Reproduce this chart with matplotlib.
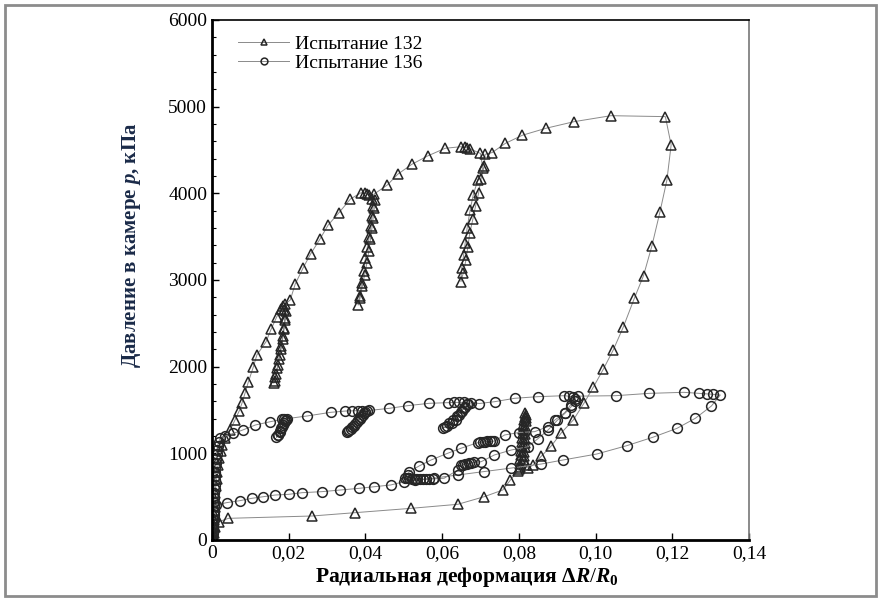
import numpy as np
import matplotlib
matplotlib.use("Agg")
import matplotlib.pyplot as plt
import matplotlib.ticker as mticker
from matplotlib.patches import Rectangle

plt.rcParams['font.family'] = ['Liberation Serif', 'DejaVu Serif']
plt.rcParams['mathtext.fontset'] = 'custom'
plt.rcParams['mathtext.rm'] = 'Liberation Serif'
plt.rcParams['mathtext.it'] = 'Liberation Serif:italic'
plt.rcParams['mathtext.bf'] = 'Liberation Serif:bold'
plt.rcParams['mathtext.bfit'] = 'Liberation Serif:bold:italic'

# Испытание 132 (triangles): radial strain, chamber pressure kPa
t132_x = [0, 0.0002, 0.0003, 0.0004, 0.0005, 0.0006, 0.0007, 0.0008, 0.0009, 0.0010,
          0.0012, 0.0014, 0.0016, 0.0019, 0.0023, 0.0026, 0.0034, 0.0047, 0.0060, 0.0071,
          0.0078, 0.0086, 0.0095, 0.0108, 0.0117, 0.0141, 0.0154, 0.0169, 0.0180, 0.0185,
          0.0188, 0.0190, 0.0187, 0.0184, 0.0180, 0.0176, 0.0172, 0.0167, 0.0163, 0.0161,
          0.0165, 0.0170, 0.0175, 0.0180, 0.0184, 0.0188, 0.0191, 0.0192, 0.0190,
          0.0204, 0.0217, 0.0237, 0.0257, 0.0281, 0.0303, 0.0331, 0.0361, 0.0389, 0.0400,
          0.0405, 0.0410,
          0.0418, 0.0420, 0.0417, 0.0414, 0.0410, 0.0405, 0.0400, 0.0396, 0.0390, 0.0385, 0.0381,
          0.0386, 0.0392, 0.0398, 0.0404, 0.0409, 0.0413, 0.0417, 0.0420, 0.0423, 0.0424, 0.0422,
          0.0457, 0.0485, 0.0521, 0.0562, 0.0608, 0.0649, 0.0660, 0.0666, 0.0672,
          0.0700, 0.0706, 0.0693, 0.0681, 0.0673, 0.0665, 0.0660, 0.0656, 0.0651, 0.0649,
          0.0655, 0.0662, 0.0667, 0.0672, 0.0680, 0.0687, 0.0695, 0.0701, 0.0710, 0.0712,
          0.0730, 0.0765, 0.0809, 0.0870, 0.0944, 0.1040, 0.1182, 0.1197,
          0.1186, 0.1168, 0.1147, 0.1125, 0.1101, 0.1072, 0.1046, 0.1020, 0.0994, 0.0970,
          0.0942, 0.0911, 0.0885, 0.0859, 0.0837,
          0.0825, 0.0818, 0.0813, 0.0814, 0.0814, 0.0815, 0.0815, 0.0816, 0.0816, 0.0817,
          0.0817, 0.0818, 0.0818, 0.0818, 0.0817,
          0.0815, 0.0814, 0.0812, 0.0811, 0.0810, 0.0809, 0.0808, 0.0807, 0.0806, 0.0805,
          0.0804, 0.0803, 0.0802, 0.0800, 0.0798,
          0.0778, 0.0758, 0.0710, 0.0641, 0.0518, 0.0374, 0.0261, 0.0043, 0.0017, 0.0008,
          0.0005, 0.0003]
t132_p = [0, 50, 100, 160, 230, 300, 380, 460, 540, 620,
          700, 780, 860, 950, 1030, 1096, 1173, 1269, 1385, 1490,
          1577, 1692, 1827, 2000, 2135, 2288, 2431, 2577, 2660, 2700,
          2650, 2560, 2450, 2350, 2240, 2130, 2020, 1910, 1830, 1810,
          1880, 1980, 2090, 2200, 2320, 2430, 2540, 2640, 2720,
          2769, 2954, 3135, 3300, 3469, 3635, 3777, 3935, 4008, 4000,
          3995, 3985,
          3930, 3850, 3740, 3620, 3500, 3380, 3250, 3100, 2960, 2820, 2711,
          2790, 2930, 3060, 3200, 3340, 3470, 3600, 3720, 3830, 3920, 3990,
          4096, 4223, 4335, 4431, 4520, 4538, 4530, 4525, 4515,
          4460, 4290, 4154, 3981, 3808, 3596, 3423, 3288, 3135, 2981,
          3080, 3230, 3380, 3540, 3700, 3850, 4000, 4160, 4320, 4450,
          4470, 4577, 4670, 4750, 4827, 4896, 4885, 4558,
          4154, 3788, 3396, 3050, 2788, 2454, 2192, 1969, 1762, 1580,
          1385, 1238, 1088, 969, 865,
          830, 870, 920, 970, 1020, 1070, 1120, 1170, 1220, 1270,
          1320, 1370, 1410, 1445, 1460,
          1420, 1380, 1330, 1280, 1230, 1180, 1130, 1080, 1030, 980,
          930, 880, 840, 815, 800,
          692, 577, 500, 412, 365, 315, 277, 250, 211, 150,
          80, 30]

# Испытание 136 (circles)
t136_x = [0, 0.0001, 0.0002, 0.0002, 0.0003, 0.0003, 0.0004, 0.0004, 0.0005, 0.0005,
          0.0006, 0.0006, 0.0007, 0.0007, 0.0008, 0.0008, 0.0009, 0.0009, 0.0010, 0.0011,
          0.0012, 0.0013, 0.0015, 0.0018, 0.0021, 0.0035, 0.0056, 0.0080, 0.0113, 0.0152,
          0.0182, 0.0188,
          0.0190, 0.0186, 0.0181, 0.0176, 0.0171, 0.0168,
          0.0172, 0.0177, 0.0182, 0.0187, 0.0192, 0.0195,
          0.0248, 0.0309, 0.0348, 0.0365, 0.0380, 0.0392,
          0.0398, 0.0393, 0.0386, 0.0378, 0.0370, 0.0362, 0.0355, 0.0353,
          0.0358, 0.0365, 0.0372, 0.0380, 0.0388, 0.0396, 0.0403, 0.0410,
          0.0462, 0.0510, 0.0566, 0.0614, 0.0630, 0.0645, 0.0658,
          0.0665, 0.0660, 0.0652, 0.0644, 0.0635, 0.0625, 0.0612, 0.0601,
          0.0608, 0.0618, 0.0628, 0.0638, 0.0648, 0.0658, 0.0668, 0.0676,
          0.0697, 0.0737, 0.0789, 0.0850, 0.0918, 0.0930, 0.0940,
          0.0946, 0.0935, 0.0920, 0.0900, 0.0876, 0.0850, 0.0824, 0.0780, 0.0736, 0.0702,
          0.0684, 0.0676, 0.0670, 0.0665, 0.0660, 0.0655, 0.0648, 0.0641, 0.0605, 0.0575,
          0.0566, 0.0558, 0.0550, 0.0542, 0.0535, 0.0528, 0.0521, 0.0514, 0.0508, 0.0503,
          0.0510, 0.0514, 0.0540, 0.0571, 0.0614, 0.0650, 0.0693, 0.0700, 0.0706, 0.0712,
          0.0718, 0.0724, 0.0730, 0.0736, 0.0763, 0.0800, 0.0841, 0.0876, 0.0894, 0.0920,
          0.0935, 0.0946, 0.0955,
          0.1052, 0.1140, 0.1230, 0.1269, 0.1291, 0.1306, 0.1325,
          0.1302, 0.1260, 0.1212, 0.1149, 0.1081, 0.1003, 0.0915, 0.0859, 0.0780, 0.0710,
          0.0641, 0.0579, 0.0530, 0.0501, 0.0466, 0.0422, 0.0383, 0.0335, 0.0287, 0.0235,
          0.0200, 0.0165, 0.0134, 0.0104, 0.0073, 0.0038, 0.0010, 0.0006, 0.0004, 0.0003,
          0.0002, 0.0001]
t136_p = [0, 40, 90, 140, 190, 240, 290, 340, 390, 440,
          490, 540, 590, 640, 690, 740, 790, 840, 890, 940,
          990, 1040, 1090, 1130, 1173, 1200, 1231, 1269, 1327, 1365,
          1392, 1395,
          1370, 1330, 1290, 1250, 1210, 1185,
          1215, 1255, 1300, 1345, 1385, 1400,
          1431, 1473, 1488, 1490, 1492, 1494,
          1480, 1440, 1400, 1360, 1320, 1285, 1255, 1250,
          1270, 1305, 1340, 1380, 1420, 1460, 1490, 1495,
          1519, 1550, 1577, 1585, 1587, 1588, 1588,
          1575, 1535, 1490, 1440, 1390, 1345, 1310, 1288,
          1305, 1345, 1390, 1435, 1480, 1525, 1565, 1585,
          1575, 1596, 1635, 1654, 1665, 1660, 1655,
          1600, 1530, 1461, 1380, 1269, 1170, 1077, 1038, 981, 904,
          895, 890, 885, 880, 875, 870, 860, 808, 712, 705,
          700, 702, 700, 705, 700, 703, 706, 710, 712, 715,
          750, 788, 854, 923, 1000, 1060, 1123, 1128, 1132, 1135,
          1138, 1140, 1138, 1142, 1212, 1240, 1250, 1308, 1385, 1470,
          1560, 1630, 1660,
          1665, 1692, 1704, 1692, 1685, 1681, 1673,
          1546, 1404, 1288, 1185, 1088, 992, 923, 877, 830, 790,
          750, 715, 690, 673, 635, 615, 596, 577, 558, 546,
          527, 519, 500, 481, 454, 431, 404, 320, 230, 150,
          80, 30]

x_ticks = [0, 0.02, 0.04, 0.06, 0.08, 0.10, 0.12, 0.14]
x_tick_labels = ['0', '0,02', '0,04', '0,06', '0,08', '0,10', '0,12', '0,14']
y_ticks = [0, 1000, 2000, 3000, 4000, 5000, 6000]

fig = plt.figure(figsize=(8.79, 5.99), dpi=100)
ax = fig.add_axes([212/879, 1-540/599, 537/879, 520/599])

line_kw = dict(color='#8a8a8a', lw=0.7, markerfacecolor='none',
               markeredgecolor='#262626', markeredgewidth=1.1, ms=7)
ax.plot(t132_x, t132_p, marker='^', label='Испытание 132', **line_kw)
ax.plot(t136_x, t136_p, marker='o', label='Испытание 136', **line_kw)

ax.set_xlim(0, 0.14)
ax.set_ylim(0, 6000)
ax.set_xticks(x_ticks)
ax.set_xticklabels(x_tick_labels)
ax.set_yticks(y_ticks)
ax.yaxis.set_minor_locator(mticker.MultipleLocator(200))
ax.tick_params(axis='both', which='both', direction='in', labelsize=14,
               top=False, right=False)
ax.tick_params(axis='both', which='major', length=5, width=1)
ax.tick_params(axis='y', which='minor', length=3, width=0.8)

for s in ['bottom', 'left']:
    ax.spines[s].set_linewidth(2.0)
for s in ['top', 'right']:
    ax.spines[s].set_linewidth(1.2)
ax.spines['right'].set_color('#777777')

ax.set_xlabel(r'Радиальная деформация Δ$\mathbfit{R}/\mathbfit{R}_{\mathbf{0}}$',
              fontsize=15.5, fontweight='bold')
ax.set_ylabel(r'Давление в камере $\mathbfit{p}$, кПа', fontsize=15,
              fontweight='bold', color='#1a2a48')
ax.xaxis.set_label_coords(0.475, -0.048)
ax.yaxis.set_label_coords(-0.128, 0.567)

ax.legend(loc='upper left', bbox_to_anchor=(0.02, 1.0), frameon=False,
          fontsize=14, markerscale=0.7, handlelength=2.6, handletextpad=0.3,
          labelspacing=0.05, borderpad=0.3)

fig.patches.append(Rectangle((5/879, 3/599), 871/879, 591/599,
                             transform=fig.transFigure, fill=False,
                             edgecolor='#8c8c8c', lw=2))

fig.savefig('out.png', dpi=100)
